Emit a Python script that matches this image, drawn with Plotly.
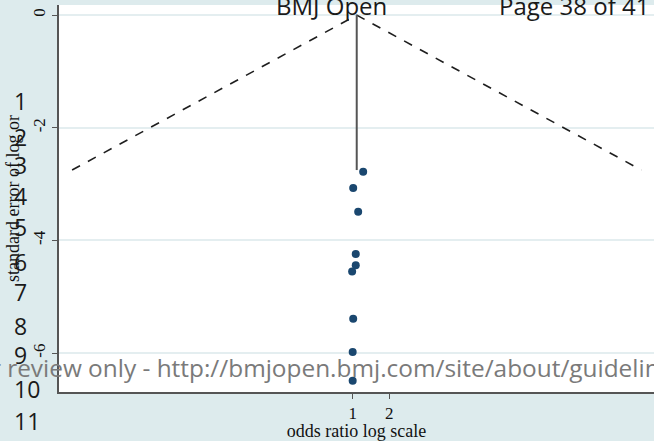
import math
import plotly.graph_objects as go

# ---- data ----
odds_ratio = [1.22, 1.01, 1.11, 1.06, 1.06, 0.99, 1.01, 1.00, 1.00]
neg_se = [-2.78, -3.07, -3.49, -4.24, -4.44, -4.55, -5.39, -5.98, -6.49]
pooled_or = 1.08
funnel_se = 2.75
ci_z = 1.96
x_tick_vals = [1, 2]
x_tick_text = ["1", "2"]
y_tick_vals = [0, -2, -4, -6]
y_tick_text = ["0", "-2", "-4", "-6"]
line_numbers = ["1", "2", "3", "4", "5", "6", "7", "8", "9", "10", "11"]
line_number_px = [101, 137, 165, 196, 227, 262, 292, 326, 355, 389, 421]

# ---- layout geometry (pixels) ----
W, H = 654, 441
ML, MR, MT, MB = 59, 0, 5, 49
PW, PH = W - ML - MR, H - MT - MB
BG = "#ddebed"


def px_x(px):
    return (px - ML) / PW


def px_y(py):
    return (H - MB - py) / PH


lo = math.exp(math.log(pooled_or) - ci_z * funnel_se)
hi = math.exp(math.log(pooled_or) + ci_z * funnel_se)

fig = go.Figure()
fig.add_trace(go.Scatter(
    x=[lo, pooled_or, hi], y=[-funnel_se, 0, -funnel_se],
    mode="lines", line=dict(color="#1e1e1e", width=1.6, dash="dash"),
    hoverinfo="skip", showlegend=False))
fig.add_trace(go.Scatter(
    x=[pooled_or, pooled_or], y=[0, -funnel_se],
    mode="lines", line=dict(color="#555555", width=2),
    hoverinfo="skip", showlegend=False))
fig.add_trace(go.Scatter(
    x=odds_ratio, y=neg_se, mode="markers",
    marker=dict(color="#1a476f", size=8),
    showlegend=False))

serif = "Liberation Serif, Times New Roman, serif"
sans = "Open Sans, sans-serif"

annotations = []
annotations.append(dict(text="BMJ Open", x=px_x(331), y=px_y(5), xref="paper", yref="paper",
                        xanchor="center", yanchor="middle", showarrow=False,
                        font=dict(family=sans, size=24, color="#1a1a1a")))
annotations.append(dict(text="Page 38 of 41", x=px_x(574), y=px_y(5), xref="paper", yref="paper",
                        xanchor="center", yanchor="middle", showarrow=False,
                        font=dict(family=sans, size=24, color="#1a1a1a")))
for t, py in zip(line_numbers, line_number_px):
    annotations.append(dict(text=t, x=px_x(12), y=px_y(py), xref="paper", yref="paper",
                            xanchor="left", yanchor="middle", showarrow=False,
                            font=dict(family=sans, size=23, color="#1a1a1a")))
annotations.append(dict(text="For peer review only - http://bmjopen.bmj.com/site/about/guidelines.xhtml",
                        x=px_x(-97), y=px_y(367), xref="paper", yref="paper",
                        xanchor="left", yanchor="middle", showarrow=False,
                        font=dict(family=sans, size=24.4, color="#7a7a7a")))

fig.update_layout(
    width=W, height=H,
    margin=dict(l=ML, r=MR, t=MT, b=MB),
    paper_bgcolor=BG, plot_bgcolor="#ffffff",
    annotations=annotations,
    xaxis=dict(type="log", range=[-2.415, 2.478],
               tickvals=x_tick_vals, ticktext=x_tick_text,
               ticks="outside", ticklen=5, tickcolor="#555555", tickwidth=1,
               showgrid=False, zeroline=False,
               showline=True, linecolor="#555555", linewidth=1.5,
               tickfont=dict(family=serif, size=17, color="#111111"),
               title=dict(text="odds ratio log scale", standoff=4,
                          font=dict(family=serif, size=18, color="#111111"))),
    yaxis=dict(range=[-6.69, 0.18],
               tickvals=y_tick_vals, ticktext=y_tick_text, tickangle=-90,
               ticks="outside", ticklen=5, tickcolor="#555555", tickwidth=1,
               showgrid=True, gridcolor="#e4eef0", gridwidth=1.5,
               zeroline=False,
               showline=True, linecolor="#555555", linewidth=1.5,
               tickfont=dict(family=serif, size=17, color="#111111"),
               title=dict(text="standard error of log or", standoff=6,
                          font=dict(family=serif, size=18, color="#111111"))),
)

fig.write_html(
    "out.html",
    config={"displayModeBar": False},
    post_script="document.body.style.margin='0';document.body.style.padding='0';"
                "document.body.style.overflow='hidden';"
                "document.body.style.background='" + BG + "';",
)
